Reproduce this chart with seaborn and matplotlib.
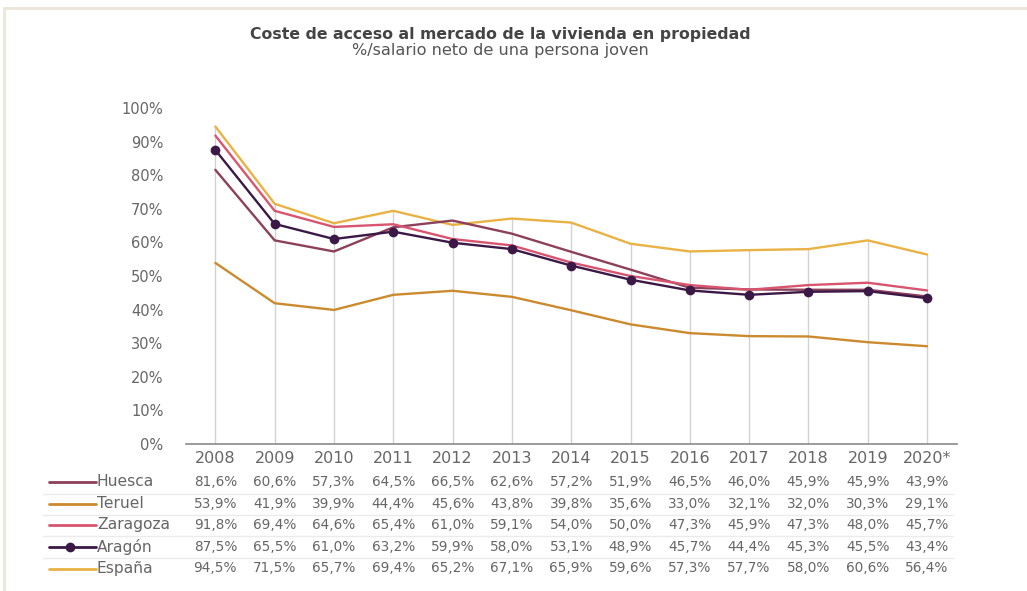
import matplotlib
matplotlib.use("Agg")
import matplotlib.pyplot as plt
import matplotlib.transforms as mtransforms
from matplotlib.lines import Line2D
import seaborn as sns
import pandas as pd

years = ["2008", "2009", "2010", "2011", "2012", "2013", "2014", "2015",
         "2016", "2017", "2018", "2019", "2020*"]
huesca = [81.6, 60.6, 57.3, 64.5, 66.5, 62.6, 57.2, 51.9, 46.5, 46.0, 45.9, 45.9, 43.9]
teruel = [53.9, 41.9, 39.9, 44.4, 45.6, 43.8, 39.8, 35.6, 33.0, 32.1, 32.0, 30.3, 29.1]
zaragoza = [91.8, 69.4, 64.6, 65.4, 61.0, 59.1, 54.0, 50.0, 47.3, 45.9, 47.3, 48.0, 45.7]
aragon = [87.5, 65.5, 61.0, 63.2, 59.9, 58.0, 53.1, 48.9, 45.7, 44.4, 45.3, 45.5, 43.4]
espana = [94.5, 71.5, 65.7, 69.4, 65.2, 67.1, 65.9, 59.6, 57.3, 57.7, 58.0, 60.6, 56.4]

series_names = ["Huesca", "Teruel", "Zaragoza", "Aragón", "España"]
series_values = [huesca, teruel, zaragoza, aragon, espana]
colors = {"Huesca": "#8c4059", "Teruel": "#cc8a2e", "Zaragoza": "#d8546f",
          "Aragón": "#3b1846", "España": "#e8b244"}

title = "Coste de acceso al mercado de la vivienda en propiedad"
subtitle = "%/salario neto de una persona joven"

sns.set_style("white")
plt.rcParams["font.family"] = ["DejaVu Sans"]

W, H = 1027, 591
fig = plt.figure(figsize=(W / 100, H / 100), dpi=100)
fig.patch.set_facecolor("white")

ax = fig.add_axes([185.7 / W, (H - 444) / H, (956.7 - 185.7) / W, (444 - 108) / H])

rows = []
for name, vals in zip(series_names, series_values):
    for y, v in zip(years, vals):
        rows.append({"year": y, "serie": name, "valor": v})
df = pd.DataFrame(rows)

# vertical drop lines from 0 up to the highest value of each year
maxima = df.groupby("year", sort=False)["valor"].max()
ax.vlines(range(len(years)), 0, maxima.values, color="#d2d2d2", lw=1.0, zorder=1)

draw_order = ["Teruel", "España", "Huesca", "Zaragoza", "Aragón"]
for z, name in enumerate(draw_order):
    sub = df[df["serie"] == name]
    if name == "Aragón":
        sns.lineplot(data=sub, x="year", y="valor", ax=ax, color=colors[name],
                     lw=1.7, marker="o", markersize=7, markeredgewidth=0,
                     sort=False, zorder=3 + z, legend=False)
    else:
        sns.lineplot(data=sub, x="year", y="valor", ax=ax, color=colors[name],
                     lw=1.7, sort=False, zorder=3 + z, legend=False)

ax.set_xlim(-0.5, len(years) - 0.5)
ax.set_ylim(0, 100)
ax.set_yticks(range(0, 101, 10))
ax.set_yticklabels([f"{t}%" for t in range(0, 101, 10)])
ax.set_xticks(range(len(years)))
ax.set_xticklabels(years)
ax.set_xlabel("")
ax.set_ylabel("")
ax.tick_params(axis="y", length=0, pad=16, labelsize=10.5, labelcolor="#666666")
ax.tick_params(axis="x", length=0, pad=5, labelsize=11.5, labelcolor="#666666")
for s in ["top", "right", "left"]:
    ax.spines[s].set_visible(False)
ax.spines["bottom"].set_color("#8a8a8a")
ax.spines["bottom"].set_linewidth(1.2)
ax.grid(False)

# titles
fig.text(500 / W, 1 - 34 / H, title, ha="center", va="center", fontsize=11.3,
         fontweight="bold", color="#444444")
fig.text(500 / W, 1 - 51 / H, subtitle, ha="center", va="center", fontsize=11.6,
         color="#555555")

# data table
trans = mtransforms.blended_transform_factory(ax.transData, fig.transFigure)
row_y = [482, 503.5, 525, 547, 568.5]
for name, vals, ypx in zip(series_names, series_values, row_y):
    yf = 1 - ypx / H
    fig.add_artist(Line2D([49 / W, 96 / W], [yf, yf], color=colors[name], lw=2.0))
    if name == "Aragón":
        fig.add_artist(Line2D([70 / W], [yf], color=colors[name], marker="o",
                              markersize=7, markeredgewidth=0))
    fig.text(97 / W, yf, name, ha="left", va="center", fontsize=11.2, color="#666666")
    for i, v in enumerate(vals):
        ax.text(i, yf, f"{v:.1f}%".replace(".", ","), transform=trans, ha="center",
                va="center", fontsize=9.8, color="#666666", clip_on=False)

for ypx in [493.5, 514.5, 536, 557.5]:
    yf = 1 - ypx / H
    fig.add_artist(Line2D([43 / W, 953 / W], [yf, yf], color="#ebebeb", lw=1))

# frame border (top and left)
fig.add_artist(Line2D([4 / W, 1], [1 - 8 / H, 1 - 8 / H], color="#ece5da", lw=2))
fig.add_artist(Line2D([4 / W, 4 / W], [1 - 8 / H, 0], color="#ece5da", lw=2))

fig.savefig("out.png", dpi=100, facecolor="white")
